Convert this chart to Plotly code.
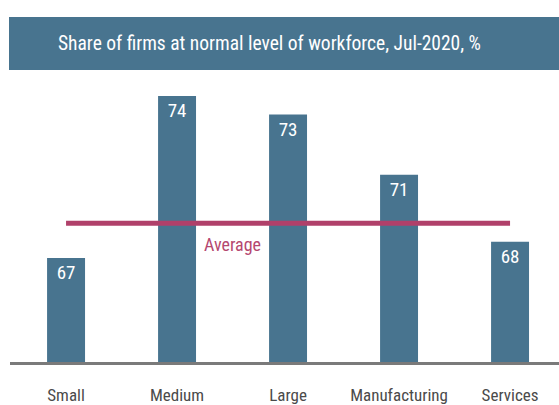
import plotly.graph_objects as go

# Data
categories = ["Small", "Medium", "Large", "Manufacturing", "Services"]
share_pct = [67.0, 74.0, 73.2, 70.6, 67.7]
average_pct = 68.5
title_text = "Share of firms at normal level of workforce, Jul-2020, %"

BAR_COLOR = "#48748f"
AVG_COLOR = "#b0406a"
FONT = "Roboto Condensed, Liberation Sans Narrow, Arial Narrow, Roboto, sans-serif"

W, H = 559, 405
ML, MR, MT, MB = 10, 0, 73, 43
plot_w = W - ML - MR
plot_h = H - MT - MB


def px_x(px):
    return (px - ML) / plot_w


def px_y(py):
    return (H - MB - py) / plot_h


fig = go.Figure()

fig.add_trace(go.Bar(
    x=categories,
    y=share_pct,
    width=0.342,
    marker=dict(color=BAR_COLOR, line=dict(width=0)),
    text=share_pct,
    texttemplate="%{y:.0f}",
    textposition="inside",
    insidetextanchor="end",
    textfont=dict(family=FONT, size=19, color="white"),
    hoverinfo="skip",
))

# Average reference line across the categories
fig.add_trace(go.Scatter(
    x=[categories[0], categories[-1]],
    y=[average_pct, average_pct],
    mode="lines",
    line=dict(color=AVG_COLOR, width=5),
    hoverinfo="skip",
))

fig.add_annotation(
    x=1.5, y=average_pct, xref="x", yref="y",
    text="Average", showarrow=False,
    yanchor="middle", yshift=-21,
    font=dict(family=FONT, size=18, color="#b5476f"),
)

# Title banner
fig.add_shape(
    type="rect", xref="paper", yref="paper",
    x0=px_x(9), x1=px_x(W + 5), y0=px_y(70), y1=px_y(17),
    fillcolor=BAR_COLOR, line=dict(width=0), layer="above",
)
fig.add_annotation(
    x=px_x(269.5), y=px_y(43.5), xref="paper", yref="paper",
    text=title_text, showarrow=False,
    xanchor="center", yanchor="middle",
    font=dict(family=FONT, size=19.5, color="white"),
)

fig.update_layout(
    width=W, height=H,
    margin=dict(l=ML, r=MR, t=MT, b=MB, pad=0),
    paper_bgcolor="white", plot_bgcolor="white",
    showlegend=False,
    xaxis=dict(
        type="category",
        range=[-0.505, 4.441],
        automargin=False,
        showgrid=False, zeroline=False,
        showline=True, linecolor="#7a7a7a", linewidth=2.5,
        ticks="", ticklabelstandoff=16, tickangle=0,
        tickfont=dict(family=FONT, size=17, color="#4a4a4a"),
    ),
    yaxis=dict(
        range=[62.5, 75],
        automargin=False,
        visible=False, showgrid=False, zeroline=False,
    ),
)

fig.write_html("out.html")
